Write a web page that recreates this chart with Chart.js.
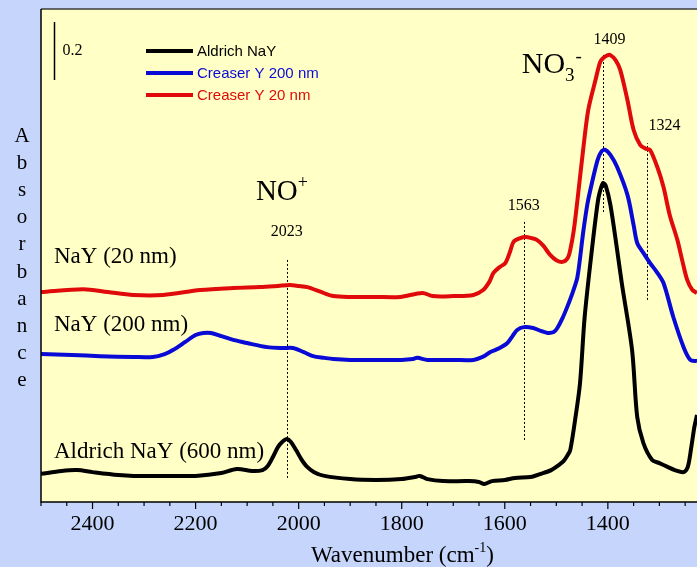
<!DOCTYPE html>
<html>
<head>
<meta charset="utf-8">
<script src="https://cdn.jsdelivr.net/npm/chart.js@4.4.1/dist/chart.umd.min.js"></script>
<style>
   html, body { margin: 0; padding: 0; background: #c5d5fb; overflow: hidden; }
   canvas { display: block; }
</style>
</head>
<body>
<canvas id="ir-chart" width="697" height="567"></canvas>
<script>
// wavenumber (cm-1) and absorbance (offset stacked)
const blackWn = [2500,2460,2430,2400,2350,2320,2250,2200,2150,2120,2090,2070,2060,2050,2040,2030,2023,2015,2005,1995,1985,1970,1950,1900,1850,1800,1775,1765,1750,1720,1670,1650,1640,1625,1600,1580,1550,1530,1510,1495,1486,1478,1473,1463,1454,1445,1431,1419,1413,1409,1404,1395,1382,1373,1353,1343,1331,1314,1300,1284,1270,1253,1245,1238,1232,1227]
const blackAbs = [0.097,0.107,0.110,0.103,0.093,0.090,0.090,0.090,0.100,0.114,0.107,0.110,0.124,0.155,0.190,0.210,0.217,0.207,0.179,0.148,0.124,0.103,0.090,0.079,0.076,0.079,0.086,0.090,0.079,0.072,0.072,0.069,0.062,0.072,0.076,0.083,0.086,0.097,0.110,0.128,0.141,0.162,0.179,0.290,0.410,0.638,0.869,1.041,1.085,1.100,1.090,1.024,0.869,0.755,0.524,0.293,0.203,0.145,0.134,0.121,0.110,0.103,0.120,0.190,0.260,0.300]

const blueWn = [2500,2440,2385,2320,2283,2260,2244,2220,2200,2185,2170,2150,2127,2100,2061,2030,2011,1990,1972,1950,1933,1900,1850,1800,1778,1770,1750,1700,1661,1640,1628,1610,1595,1585,1576,1563,1545,1530,1517,1505,1498,1488,1479,1468,1459,1448,1440,1434,1420,1412,1405,1395,1382,1362,1350,1343,1331,1318,1305,1292,1273,1253,1240,1227]
const blueAbs = [0.510,0.507,0.503,0.500,0.500,0.510,0.524,0.552,0.576,0.583,0.583,0.572,0.559,0.548,0.534,0.531,0.531,0.517,0.503,0.497,0.493,0.490,0.490,0.490,0.493,0.497,0.490,0.490,0.490,0.503,0.517,0.531,0.548,0.572,0.593,0.603,0.600,0.590,0.583,0.586,0.600,0.634,0.672,0.724,0.776,0.928,1.024,1.076,1.179,1.210,1.214,1.197,1.155,1.059,0.955,0.893,0.859,0.824,0.793,0.755,0.638,0.534,0.490,0.486]

const redWn = [2500,2418,2370,2321,2263,2191,2127,2075,2040,2017,2000,1983,1952,1933,1900,1850,1803,1760,1740,1700,1661,1642,1630,1622,1610,1599,1590,1583,1570,1560,1548,1537,1525,1512,1500,1488,1478,1473,1466,1459,1448,1438,1424,1415,1409,1400,1395,1385,1376,1362,1350,1337,1325,1318,1304,1292,1280,1265,1255,1246,1236,1227]
const redAbs = [0.724,0.734,0.724,0.714,0.714,0.731,0.738,0.741,0.745,0.748,0.745,0.741,0.721,0.710,0.707,0.707,0.707,0.721,0.710,0.710,0.714,0.731,0.759,0.790,0.810,0.824,0.862,0.897,0.910,0.914,0.910,0.903,0.883,0.852,0.834,0.828,0.841,0.869,0.938,1.041,1.214,1.352,1.455,1.517,1.531,1.541,1.541,1.524,1.490,1.386,1.283,1.231,1.217,1.214,1.155,1.086,0.990,0.903,0.828,0.766,0.731,0.721]

const seriesLabels = ['Aldrich NaY', 'Creaser Y 200 nm', 'Creaser Y 20 nm']
const seriesColors = ['#000000', '#0a0ad6', '#e00a0a']

const tickValues = [1250,1300,1350,1400,1450,1500,1550,1600,1650,1700,1750,1800,1850,1900,1950,2000,2050,2100,2150,2200,2250,2300,2350,2400,2450,2500]

// dashed peak markers: wavenumber, absorbance from, absorbance to
const peakWn = [2023, 1563, 1409, 1324]
const peakFrom = [0.083, 0.214, 1.000, 0.697]
const peakTo = [0.841, 0.972, 1.541, 1.238]
const peakText = ['2023', '1563', '1409', '1324']
const peakTextWn = [2023, 1563, 1397, 1290]
const peakTextAbs = [0.931, 1.021, 1.593, 1.297]

const curveText = ['NaY (20 nm)', 'NaY (200 nm)', 'Aldrich NaY (600 nm)']
const curveTextAbs = [0.845, 0.610, 0.172]

const SERIF = '"Liberation Serif", "Times New Roman", serif'
const SANS = '"Liberation Sans", Arial, sans-serif'
const plotBg = '#ffffc6'
const outerBg = '#c5d5fb'

function toPoints(xs, ys) {
   return xs.map((x, i) => ({ x: x, y: ys[i] }))
}

function drawParts(ctx, x, y, parts) {
   // draws text runs left to right, each with its own size and vertical shift
   ctx.textAlign = 'left'
   ctx.textBaseline = 'middle'
   for (const p of parts) {
      ctx.font = p.size + 'px ' + (p.family || SERIF)
      ctx.fillText(p.t, x, y + (p.dy || 0))
      x += ctx.measureText(p.t).width + (p.gap || 0)
   }
}

const decor = {
   id: 'decor',
   beforeDraw(chart) {
      const { ctx, chartArea: a } = chart
      ctx.save()
      ctx.fillStyle = outerBg
      ctx.fillRect(0, 0, chart.width, chart.height)
      ctx.fillStyle = plotBg
      ctx.fillRect(a.left, a.top, a.right - a.left, a.bottom - a.top)
      ctx.restore()
   },
   beforeDatasetsDraw(chart) {
      const { ctx } = chart
      const xs = chart.scales.x
      const ys = chart.scales.y
      ctx.save()
      ctx.strokeStyle = '#000'
      ctx.lineWidth = 1
      ctx.setLineDash([2, 2])
      for (let i = 0; i < peakWn.length; ++i) {
         const px = Math.round(xs.getPixelForValue(peakWn[i])) + 0.5
         ctx.beginPath()
         ctx.moveTo(px, ys.getPixelForValue(peakFrom[i]))
         ctx.lineTo(px, ys.getPixelForValue(peakTo[i]))
         ctx.stroke()
      }
      ctx.restore()
   },
   afterDraw(chart) {
      const { ctx, chartArea: a } = chart
      const xs = chart.scales.x
      const ys = chart.scales.y
      ctx.save()

      // frame
      ctx.lineWidth = 1.5
      ctx.strokeStyle = '#3a3a3a'
      ctx.beginPath()
      ctx.moveTo(a.left, a.top)
      ctx.lineTo(a.right, a.top)
      ctx.stroke()
      ctx.strokeStyle = '#000'
      ctx.beginPath()
      ctx.moveTo(a.left, a.top)
      ctx.lineTo(a.left, a.bottom)
      ctx.lineTo(a.right, a.bottom)
      ctx.stroke()

      // tick marks below the axis
      ctx.lineWidth = 1.2
      for (const v of tickValues) {
         const px = xs.getPixelForValue(v)
         const len = v % 200 === 0 ? 7 : 4
         ctx.beginPath()
         ctx.moveTo(px, a.bottom)
         ctx.lineTo(px, a.bottom + len)
         ctx.stroke()
      }

      ctx.fillStyle = '#000'

      // axis title
      drawParts(ctx, 311, 556, [
         { t: 'Wavenumber (cm', size: 23 },
         { t: '-1', size: 14, dy: -8 },
         { t: ')', size: 23 }
      ])

      // vertical y label, one letter per line
      ctx.font = '21px ' + SERIF
      ctx.textAlign = 'center'
      ctx.textBaseline = 'middle'
      'Absorbance'.split('').forEach((ch, i) => ctx.fillText(ch, 22, 136 + i * 27.2))

      // 0.2 scale bar
      const barX = Math.round(xs.getPixelForValue(2475)) + 0.5
      ctx.lineWidth = 1.5
      ctx.beginPath()
      ctx.moveTo(barX, ys.getPixelForValue(1.655))
      ctx.lineTo(barX, ys.getPixelForValue(1.455))
      ctx.stroke()
      drawParts(ctx, barX + 8, ys.getPixelForValue(1.555), [{ t: '0.2', size: 16 }])

      // legend
      chart.data.datasets.forEach((ds, i) => {
         const ly = 51 + i * 22
         ctx.strokeStyle = ds.borderColor
         ctx.lineWidth = 4
         ctx.beginPath()
         ctx.moveTo(146, ly)
         ctx.lineTo(193, ly)
         ctx.stroke()
         ctx.fillStyle = ds.borderColor
         drawParts(ctx, 197, ly + 1, [{ t: ds.label, size: 15, family: SANS }])
      })
      ctx.fillStyle = '#000'

      // curve names
      curveText.forEach((t, i) => {
         drawParts(ctx, 54, ys.getPixelForValue(curveTextAbs[i]), [{ t: t, size: 23 }])
      })

      // peak positions
      ctx.font = '16px ' + SERIF
      ctx.textAlign = 'center'
      ctx.textBaseline = 'middle'
      peakText.forEach((t, i) => {
         ctx.fillText(t, xs.getPixelForValue(peakTextWn[i]), ys.getPixelForValue(peakTextAbs[i]))
      })

      // species
      drawParts(ctx, xs.getPixelForValue(2083), ys.getPixelForValue(1.069), [
         { t: 'NO', size: 29 },
         { t: '+', size: 18, dy: -9 }
      ])
      drawParts(ctx, xs.getPixelForValue(1567), ys.getPixelForValue(1.505), [
         { t: 'NO', size: 30 },
         { t: '3', size: 19, dy: 10, gap: 1 },
         { t: '-', size: 19, dy: -9 }
      ])

      ctx.restore()
   }
}

const datasets = [blackWn, blueWn, redWn].map((wn, i) => ({
   label: seriesLabels[i],
   data: toPoints(wn, [blackAbs, blueAbs, redAbs][i]),
   borderColor: seriesColors[i],
   backgroundColor: seriesColors[i],
   borderWidth: 4,
   pointRadius: 0,
   tension: 0.3,
   fill: false
}))

new Chart(document.getElementById('ir-chart'), {
   type: 'line',
   data: { datasets: datasets },
   plugins: [decor],
   options: {
      responsive: false,
      animation: false,
      layout: { padding: { left: 41, top: 9, right: 0, bottom: 0 } },
      plugins: {
         legend: { display: false },
         tooltip: { enabled: false }
      },
      scales: {
         x: {
            type: 'linear',
            reverse: true,
            min: 1227,
            max: 2500,
            afterBuildTicks: scale => {
               scale.ticks = tickValues.map(v => ({ value: v }))
            },
            afterFit: scale => {
               scale.height = 65
            },
            ticks: {
               autoSkip: false,
               maxRotation: 0,
               padding: 1,
               color: '#000',
               font: { family: SERIF, size: 22 },
               callback: v => (v % 200 === 0 ? String(v) : '')
            },
            grid: { display: false },
            border: { display: false }
         },
         y: {
            display: false,
            min: 0,
            max: 1.7
         }
      }
   }
})
</script>
</body>
</html>
